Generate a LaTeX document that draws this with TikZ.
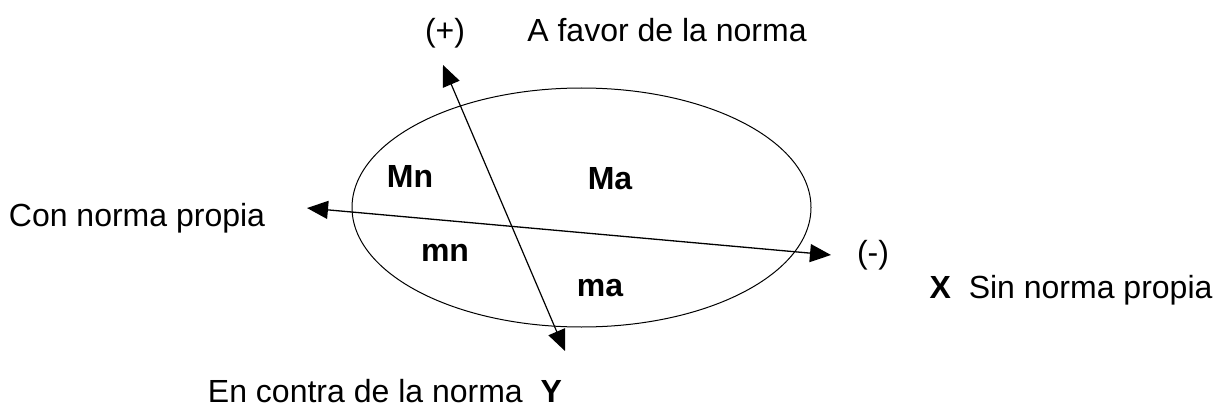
\documentclass[tikz,border=0pt]{standalone}
\usepackage{fontspec}
\setmainfont{Liberation Sans}
\usetikzlibrary{arrows.meta,shapes.geometric}

\begin{document}
\begin{tikzpicture}[x=1pt,y=-1pt,>={Triangle[length=21pt,width=18pt]},
  lbl/.style={font=\fontsize{32}{38}\selectfont, inner sep=0pt, anchor=base},
  zone/.style={lbl, font=\fontsize{32}{38}\selectfont\bfseries}]
  \useasboundingbox (0,0) rectangle (1218,409);
  % the set of members
  \node (ell) [draw, ellipse, line width=1pt, inner sep=0pt, minimum width=459pt, minimum height=239pt] at (581.5,207.5) {};

  % end points of the two axes
  \coordinate (top)    at (443,65);
  \coordinate (bottom) at (565,351);
  \coordinate (left)   at (307,208);
  \coordinate (right)  at (831,255);

  % axis labels
  \node (plus)   [lbl] at (445,42)  {(+)};
  \node (favor)  [lbl] at (667,42)  {A favor de la norma};
  \node (con)    [lbl] at (137,226) {Con norma propia};
  \node (minus)  [lbl] at (873,263) {(-)};
  \node (sin)    [lbl] at (1071,298) {\textbf{X}\hspace{9pt} Sin norma propia};
  \node (contra) [lbl] at (385,402) {En contra de la norma\hspace{9pt} \textbf{Y}};

  % the four zones
  \node (Mn) [zone] at (410,187) {Mn};
  \node (Ma) [zone] at (610,189) {Ma};
  \node (mn) [zone] at (445,261) {mn};
  \node (ma) [zone] at (600,296) {ma};

  % axes
  \draw[<->, line width=1.2pt] (top) -- (bottom);
  \draw[<->, line width=1.3pt] (left) -- (right);
\end{tikzpicture}
\end{document}
